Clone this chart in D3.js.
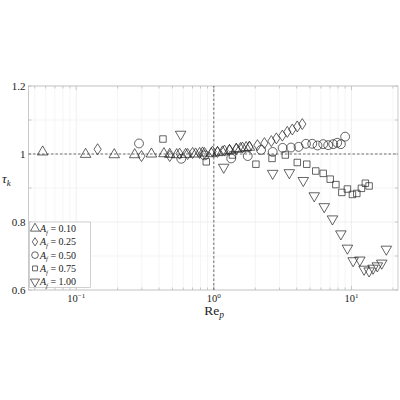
<!DOCTYPE html>
<html lang="en">
<head>
<meta charset="UTF-8">
<script src="https://cdn.jsdelivr.net/npm/d3@7"></script>
<style>
    body { margin: 0; background: #fff; }
    svg { display: block; font-family: "Liberation Serif", "DejaVu Serif", serif; }
</style>
</head>
<body>
<script>
    // A_f = 0.10 (triangle up)
    const re10 = [0.057, 0.117, 0.189, 0.266, 0.352, 0.434, 0.478, 0.537, 0.624, 0.737, 0.828, 0.958, 1.064, 1.156, 1.30, 1.453, 1.561, 1.717, 1.814]
    const tau10 = [1.006, 0.999, 0.998, 0.998, 1.0, 1.001, 0.999, 0.998, 0.999, 1.0, 1.003, 1.001, 1.004, 1.006, 1.01, 1.014, 1.016, 1.019, 1.02]
    // A_f = 0.25 (diamond)
    const re25 = [0.143, 0.298, 0.478, 0.564, 0.645, 0.701, 0.788, 0.856, 0.979, 1.064, 1.195, 1.30, 1.461, 1.614, 1.814, 2.074, 2.331, 2.619, 2.847, 3.147, 3.42, 3.718, 4.042, 4.394]
    const tau25 = [1.014, 0.994, 0.994, 1.001, 1.0, 1.003, 1.003, 1.003, 1.007, 1.006, 1.01, 1.012, 1.015, 1.019, 1.021, 1.026, 1.032, 1.038, 1.046, 1.054, 1.065, 1.072, 1.081, 1.088]
    // A_f = 0.50 (circle)
    const re50 = [0.286, 0.580, 0.856, 1.337, 1.764, 2.205, 2.677, 3.162, 3.638, 4.13, 4.673, 5.19, 5.67, 6.236, 6.78, 7.37, 7.88, 8.38, 9.0]
    const tau50 = [1.031, 0.986, 0.996, 0.987, 0.994, 1.012, 1.006, 1.018, 1.019, 1.021, 1.03, 1.03, 1.025, 1.029, 1.026, 1.029, 1.033, 1.029, 1.051]
    // A_f = 0.75 (square)
    const re75 = [0.427, 0.881, 1.366, 2.022, 2.649, 3.308, 4.042, 4.735, 5.504, 6.236, 7.01, 7.71, 8.52, 9.35, 10.17, 10.94, 11.82, 12.63, 13.44]
    const tau75 = [1.044, 0.977, 0.997, 0.97, 0.987, 0.997, 0.975, 0.97, 0.95, 0.943, 0.926, 0.91, 0.887, 0.897, 0.881, 0.884, 0.899, 0.914, 0.906]
    // A_f = 1.00 (triangle down)
    const re100 = [0.574, 1.18, 2.677, 3.537, 4.467, 5.367, 6.343, 7.284, 8.38, 9.35, 10.29, 11.51, 12.36, 13.44, 14.36, 15.43, 16.61, 17.93]
    const tau100 = [1.058, 0.961, 0.943, 0.945, 0.922, 0.877, 0.845, 0.809, 0.765, 0.723, 0.686, 0.688, 0.661, 0.656, 0.664, 0.671, 0.679, 0.72]

    const legendLabels = ["0.10", "0.25", "0.50", "0.75", "1.00"]
    const yTicks = [0.6, 0.8, 1, 1.2]
    const xTicks = [0.1, 1, 10]
    const xTickExp = ["\u22121", "0", "1"]

    const width = 400, height = 400
    const margin = { left: 28.5, right: 2, top: 86, bottom: 110 }

    const x = d3.scaleLog().domain([0.045, 21.8]).range([margin.left, width - margin.right])
    const y = d3.scaleLinear().domain([0.6, 1.2]).range([height - margin.bottom, margin.top])

    const svg = d3.select("body").append("svg")
        .attr("width", width)
        .attr("height", height)

    // minor + major grid
    const xMinor = []
    for (let e = -2; e <= 1; e++) {
        for (let k = 1; k <= 9; k++) {
            const v = k * Math.pow(10, e)
            if (v > x.domain()[0] && v < x.domain()[1]) xMinor.push(v)
        }
    }
    const yMinor = d3.range(0.6, 1.2001, 0.1)

    const grid = svg.append("g")
    grid.selectAll(".gx").data(xMinor).enter().append("line")
        .attr("x1", d => x(d)).attr("x2", d => x(d))
        .attr("y1", y(0.6)).attr("y2", y(1.2))
        .attr("stroke", d => xTicks.includes(d) ? "#e4e4e4" : "#efefef")
        .attr("stroke-width", 0.6)
    grid.selectAll(".gy").data(yMinor).enter().append("line")
        .attr("x1", x.range()[0]).attr("x2", x.range()[1])
        .attr("y1", d => y(d)).attr("y2", d => y(d))
        .attr("stroke", d => Math.abs(Math.round(d * 10) % 2) === 0 ? "#e4e4e4" : "#efefef")
        .attr("stroke-width", 0.6)

    // inward ticks on all sides
    const tk = svg.append("g").attr("stroke", "#aaa").attr("stroke-width", 0.6)
    xMinor.forEach(v => {
        const len = xTicks.includes(v) ? 4 : 2.5
        tk.append("line").attr("x1", x(v)).attr("x2", x(v)).attr("y1", y(0.6)).attr("y2", y(0.6) - len)
        tk.append("line").attr("x1", x(v)).attr("x2", x(v)).attr("y1", y(1.2)).attr("y2", y(1.2) + len)
    })
    yMinor.forEach(v => {
        const len = 3
        tk.append("line").attr("x1", x.range()[0]).attr("x2", x.range()[0] + len).attr("y1", y(v)).attr("y2", y(v))
        tk.append("line").attr("x1", x.range()[1]).attr("x2", x.range()[1] - len).attr("y1", y(v)).attr("y2", y(v))
    })

    // box
    svg.append("rect")
        .attr("x", x.range()[0]).attr("y", y(1.2))
        .attr("width", x.range()[1] - x.range()[0])
        .attr("height", y(0.6) - y(1.2))
        .attr("fill", "none").attr("stroke", "#bdbdbd").attr("stroke-width", 0.8)

    // reference lines
    svg.append("line")
        .attr("x1", x.range()[0]).attr("x2", x.range()[1])
        .attr("y1", y(1)).attr("y2", y(1))
        .attr("stroke", "#333").attr("stroke-width", 0.7).attr("stroke-dasharray", "2.5,2")
    svg.append("line")
        .attr("x1", x(1)).attr("x2", x(1))
        .attr("y1", y(0.6)).attr("y2", y(1.2))
        .attr("stroke", "#333").attr("stroke-width", 0.7).attr("stroke-dasharray", "2.5,2")

    // markers
    const shapes = {
        triUp: s => d3.symbol().type(d3.symbolTriangle).size(48 * s)(),
        diamond: s => `M0,${-5.5 * s}L${3.6 * s},0L0,${5.5 * s}L${-3.6 * s},0Z`,
        circle: s => d3.symbol().type(d3.symbolCircle).size(62 * s * s)(),
        square: s => d3.symbol().type(d3.symbolSquare).size(42 * s * s)()
    }

    const series = [
        { re: re10, tau: tau10, shape: "triUp", rot: 0 },
        { re: re25, tau: tau25, shape: "diamond", rot: 0 },
        { re: re50, tau: tau50, shape: "circle", rot: 0 },
        { re: re75, tau: tau75, shape: "square", rot: 0 },
        { re: re100, tau: tau100, shape: "triUp", rot: 180 }
    ]

    series.forEach(s => {
        svg.append("g").selectAll("path")
            .data(s.re.map((r, i) => [r, s.tau[i]]))
            .enter().append("path")
            .attr("d", shapes[s.shape](1))
            .attr("transform", d => `translate(${x(d[0])},${y(d[1])}) rotate(${s.rot})`)
            .attr("fill", "none")
            .attr("stroke", "#222")
            .attr("stroke-width", 0.7)
    })

    // tick labels
    svg.append("g").selectAll("text").data(yTicks).enter().append("text")
        .attr("x", margin.left - 3).attr("y", d => y(d) + 3.5)
        .attr("text-anchor", "end").attr("font-size", 11).attr("fill", "#222")
        .text(d => d === 1 ? "1" : d.toFixed(1))

    const xl = svg.append("g").selectAll("text").data(xTicks).enter().append("text")
        .attr("x", d => x(d)).attr("y", y(0.6) + 12)
        .attr("text-anchor", "middle").attr("font-size", 10.5).attr("fill", "#222")
    xl.append("tspan").text("10")
    xl.append("tspan").attr("dy", -4.5).attr("font-size", 7).text((d, i) => xTickExp[i])

    // axis labels
    const xlab = svg.append("text")
        .attr("x", 214).attr("y", 315)
        .attr("text-anchor", "middle").attr("font-size", 13.5).attr("fill", "#222")
    xlab.append("tspan").text("Re")
    xlab.append("tspan").attr("dy", 3).attr("font-size", 9.5).attr("font-style", "italic").text("p")

    const ylab = svg.append("text")
        .attr("x", 2).attr("y", 183)
        .attr("font-size", 13).attr("fill", "#222")
    ylab.append("tspan").attr("font-style", "italic").text("\u03c4")
    ylab.append("tspan").attr("dy", 3).attr("font-size", 9).attr("font-style", "italic").text("k")

    // legend
    const lg = svg.append("g").attr("transform", `translate(${margin.left + 1},222)`)
    lg.append("rect").attr("width", 61).attr("height", 65.5)
        .attr("fill", "#fff").attr("stroke", "#bdbdbd").attr("stroke-width", 0.7)
    legendLabels.forEach((lab, i) => {
        const ly = 6.5 + i * 13.3
        const s = series[i]
        lg.append("path")
            .attr("d", shapes[s.shape](0.75))
            .attr("transform", `translate(5.5,${ly}) rotate(${s.rot})`)
            .attr("fill", "none").attr("stroke", "#222").attr("stroke-width", 0.7)
        const t = lg.append("text").attr("x", 10.5).attr("y", ly + 3.6)
            .attr("font-size", 10).attr("fill", "#222")
        t.append("tspan").attr("font-style", "italic").text("A")
        t.append("tspan").attr("dy", 2.5).attr("font-size", 6.5).attr("font-style", "italic").text("f")
        t.append("tspan").attr("dy", -2.5).text(" = " + lab)
    })
</script>
</body>
</html>
